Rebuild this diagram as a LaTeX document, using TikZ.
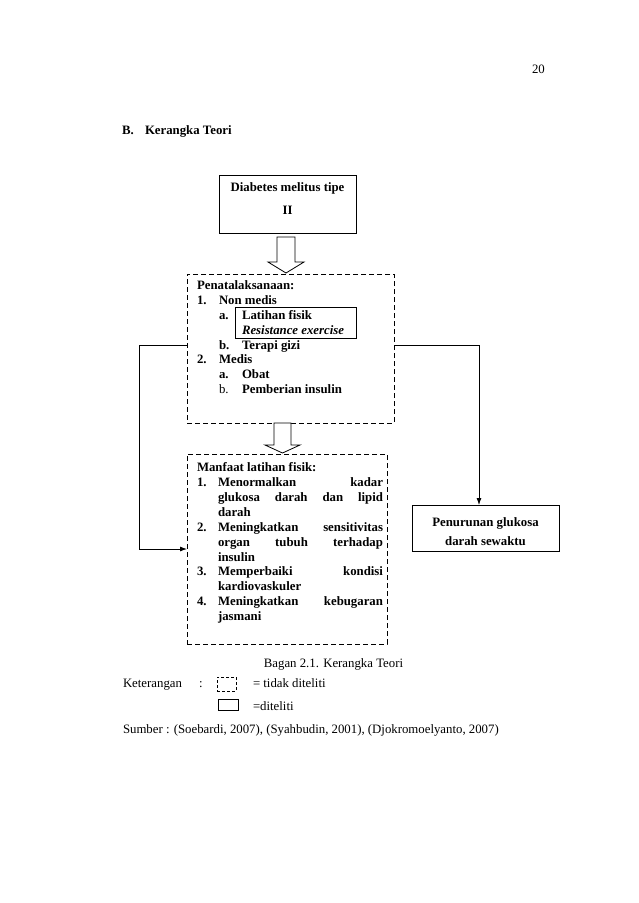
\documentclass[tikz,border=0pt]{standalone}
\usepackage{fontspec}
\setmainfont{Liberation Serif}
\usetikzlibrary{arrows.meta}
\begin{document}
\begin{tikzpicture}[x=1pt,y=-1pt,
  every node/.style={inner sep=0pt, outer sep=0pt, font=\fontsize{12.8}{15}\selectfont},
  bt/.style={anchor=base west, font=\fontsize{12.8}{15}\selectfont\bfseries},
  bc/.style={anchor=base, font=\fontsize{12.8}{15}\selectfont\bfseries},
  rt/.style={anchor=base west},
  dbox/.style={draw, dash pattern=on 5pt off 3pt, line width=0.8pt},
  sbox/.style={draw, line width=0.8pt},
  blockarrow/.style={draw, fill=white, line width=0.8pt, line join=miter},
  conn/.style={line width=0.8pt},
  tip/.style={-{Latex[length=7pt,width=5pt]}}]
\useasboundingbox (0,0) rectangle (638,903);

% header
\node[rt] (pg) at (532,73) {20};
\node[bt] (sec) at (122,134) {B.};
\node[bt] (sect) at (145,134) {Kerangka Teori};

% box: diabetes
\node[sbox, minimum width=137pt, minimum height=58pt] (diab) at (287.5,204) {};
\node[bc] (diab1) at (287.5,191) {Diabetes melitus tipe};
\node[bc] (diab2) at (287.5,214) {II};

% dashed box 1
\node[dbox, minimum width=207pt, minimum height=149pt] (box1) at (290.5,348.5) {};
\node[sbox, minimum width=121pt, minimum height=31pt] (inner) at (295.5,322.5) {};
\node[bt] (p0) at (197,289) {Penatalaksanaan:};
\node[bt] (p1n) at (197,304) {1.};
\node[bt] (p1) at (219,304) {Non medis};
\node[bt] (p1an) at (219,319) {a.};
\node[bt] (p1a) at (242,319) {Latihan fisik};
\node[bt] (p1a2) at (242,334) {\itshape Resistance exercise};
\node[bt] (p1bn) at (219,349) {b.};
\node[bt] (p1b) at (242,349) {Terapi gizi};
\node[bt] (p2n) at (197,363) {2.};
\node[bt] (p2) at (219,363) {Medis};
\node[bt] (p2an) at (219,378) {a.};
\node[bt] (p2a) at (242,378) {Obat};
\node[rt] (p2bn) at (219,393) {b.};
\node[bt] (p2b) at (242,393) {Pemberian insulin};

% block arrow 1
\draw[blockarrow] (277,237) -- (295,237) -- (295,262) -- (304,262) -- (286,273)
  -- (268,262) -- (277,262) -- cycle;

% dashed box 2
\node[dbox, minimum width=200pt, minimum height=190pt] (box2) at (287,549) {};
\node[bt] (m0) at (197,471) {Manfaat latihan fisik:};
\node[bt] (m1n) at (197,486) {1.};
\node[bt] (m1a) at (218,486) {\makebox[165pt][s]{Menormalkan \hfill kadar}};
\node[bt] (m1b) at (218,501) {\makebox[165pt][s]{glukosa \hfill darah \hfill dan \hfill lipid}};
\node[bt] (m1c) at (218,516) {darah};
\node[bt] (m2n) at (197,531) {2.};
\node[bt] (m2a) at (218,531) {\makebox[165pt][s]{Meningkatkan \hfill sensitivitas}};
\node[bt] (m2b) at (218,546) {\makebox[165pt][s]{organ \hfill tubuh \hfill terhadap}};
\node[bt] (m2c) at (218,561) {insulin};
\node[bt] (m3n) at (197,575) {3.};
\node[bt] (m3a) at (218,575) {\makebox[165pt][s]{Memperbaiki \hfill kondisi}};
\node[bt] (m3b) at (218,590) {kardiovaskuler};
\node[bt] (m4n) at (197,605) {4.};
\node[bt] (m4a) at (218,605) {\makebox[165pt][s]{Meningkatkan \hfill kebugaran}};
\node[bt] (m4b) at (218,620) {jasmani};

% block arrow 2
\draw[blockarrow] (274,423) -- (291,423) -- (291,445) -- (300,445) -- (282.5,453)
  -- (265,445) -- (274,445) -- cycle;

% box: penurunan
\node[sbox, minimum width=147pt, minimum height=46pt] (pen) at (485.5,528) {};
\node[bc] (pen1) at (485.5,526) {Penurunan glukosa};
\node[bc] (pen2) at (485.5,545) {darah sewaktu};

% side connectors
\coordinate (lturn) at (139,345);
\draw[conn,tip] (box1.west |- lturn) -- (lturn) |- (box2.west);
\coordinate (rturn) at (479,345);
\draw[conn,tip] (box1.east |- rturn) -- (rturn) -- (rturn |- pen.north);

% caption & legend
\node[anchor=base] (cap) at (333.5,667) {Bagan 2.1. Kerangka Teori};
\node[rt] (ket) at (123,687) {Keterangan};
\node[rt] (col) at (199,687) {:};
\node[draw, dash pattern=on 3pt off 2pt, line width=0.7pt, minimum width=19pt, minimum height=14pt] (lgd) at (226.5,684) {};
\node[rt] (lgdt) at (253,687) {= tidak diteliti};
\node[draw, line width=0.7pt, minimum width=20pt, minimum height=11pt] (lgs) at (228,705) {};
\node[rt] (lgst) at (253,710) {=diteliti};
\node[rt] (src) at (123,733) {Sumber : (Soebardi, 2007), (Syahbudin, 2001), (Djokromoelyanto, 2007)};
\end{tikzpicture}
\end{document}
